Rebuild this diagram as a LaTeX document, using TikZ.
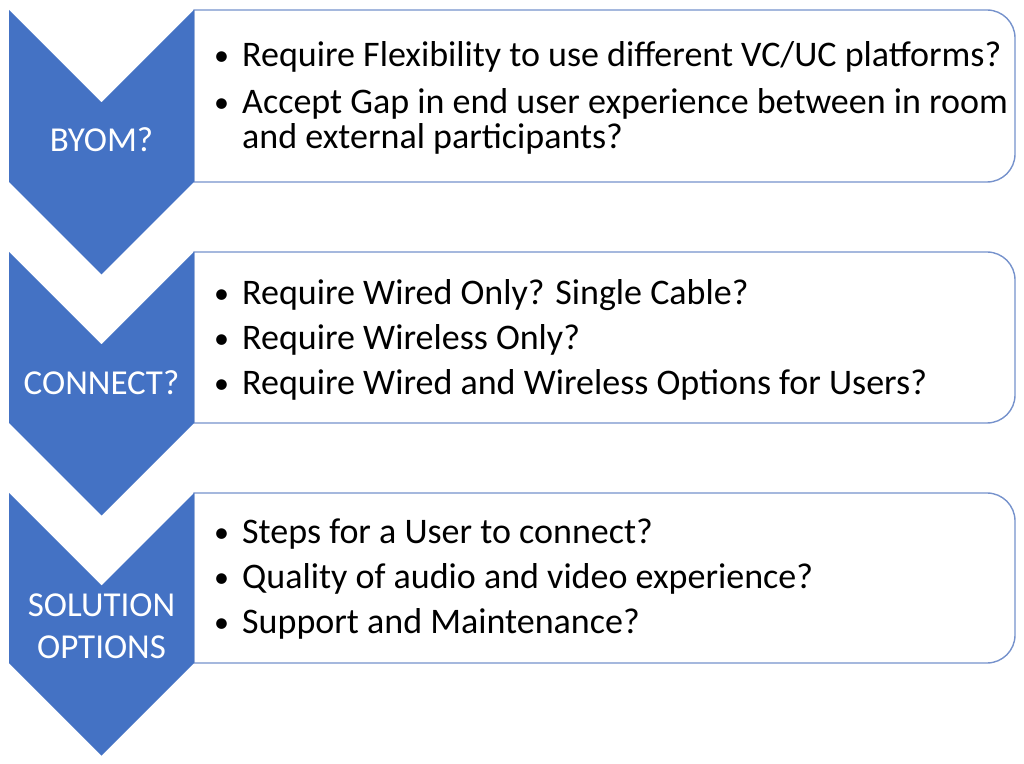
\documentclass[tikz,border=0pt]{standalone}
\usepackage{fontspec}
\setmainfont{Carlito}
\usetikzlibrary{positioning}
\definecolor{chevblue}{RGB}{68,114,196}
\definecolor{edgeblue}{RGB}{118,146,204}
\newcommand{\qbul}{\makebox[28pt][l]{\raisebox{1pt}{\fontsize{30}{30}\selectfont\textbullet}}}
\begin{document}
\begin{tikzpicture}[x=1pt, y=1pt]
       \tikzstyle{chevron}=[fill=chevblue, draw=none]
       \tikzstyle{qbox}=[draw=edgeblue, line width=1.4pt, fill=white]
       \tikzstyle{headnode}=[text=white, inner sep=0pt, align=center, font={\fontsize{35}{42}\selectfont}]
       \tikzstyle{listnode}=[anchor=west, inner sep=0pt, align=left, font={\fontsize{36}{35}\selectfont}]
       \useasboundingbox (0,0) rectangle (1024,763);
       % boxes, only the right side is rounded
       \draw[qbox] (194,753) -- (987,753) arc[start angle=90, end angle=0, radius=28]
        -- (1015,609) arc[start angle=0, end angle=-90, radius=28] -- (194,581) -- cycle;
       \draw[qbox] (194,511) -- (987,511) arc[start angle=90, end angle=0, radius=28]
        -- (1015,368) arc[start angle=0, end angle=-90, radius=28] -- (194,340) -- cycle;
       \draw[qbox] (194,270) -- (987,270) arc[start angle=90, end angle=0, radius=28]
        -- (1015,128) arc[start angle=0, end angle=-90, radius=28] -- (194,100) -- cycle;
       % chevrons
       \fill[chevron] (9,753) -- (101.5,660.5) -- (194,753) -- (194,581) -- (101.5,488.5) -- (9,581) -- cycle;
       \fill[chevron] (9,511) -- (101.5,418.5) -- (194,511) -- (194,340) -- (101.5,247.5) -- (9,340) -- cycle;
       \fill[chevron] (9,270) -- (101.5,177.5) -- (194,270) -- (194,100) -- (101.5,7.5) -- (9,100) -- cycle;
       \node[headnode] (byom) at (101.5,623) {BYOM?};
       \node[headnode] (connect) at (101.5,380) {CONNECT?};
       \node[headnode] (solution) at (101.5,137) {SOLUTION\\OPTIONS};
       \node[listnode] (byomq) at (214,665) {\qbul Require Flexibility to use different VC/UC platforms?\\[12pt]
        \qbul Accept Gap in end user experience between in room\\
        \hspace*{28pt}and external participants?};
       \node[listnode] (connectq) at (214,423) {\qbul Require Wired Only? Single Cable?\\[10pt]
        \qbul Require Wireless Only?\\[10pt]
        \qbul Require Wired and Wireless Options for Users?};
       \node[listnode] (solutionq) at (214,184) {\qbul Steps for a User to connect?\\[10pt]
        \qbul Quality of audio and video experience?\\[10pt]
        \qbul Support and Maintenance?};
      \end{tikzpicture}
\end{document}
